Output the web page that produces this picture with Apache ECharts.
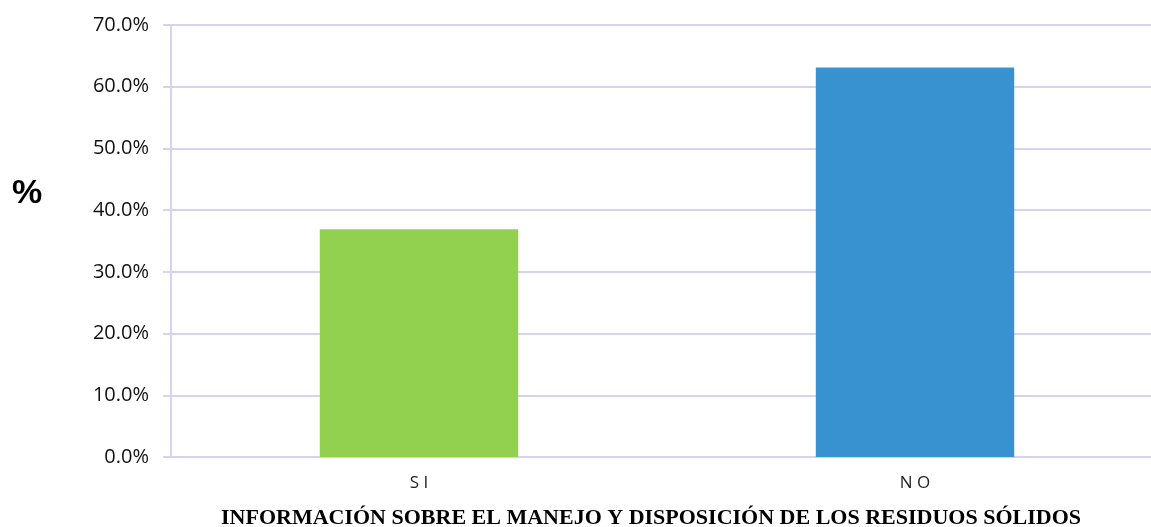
<!DOCTYPE html>
<html><head><meta charset="utf-8">
<script src="https://cdn.jsdelivr.net/npm/echarts@6/dist/echarts.min.js"></script>
<style>html,body{margin:0;padding:0;background:#fff}#c{width:1151px;height:527px}</style>
</head><body><div id="c"></div>
<script>
const categories = ['S I', 'N O'];
const values = [36.9, 63.1];
const colors = ['#92d050', '#3892cf'];
const yTicks = [0, 10, 20, 30, 40, 50, 60, 70];

const chart = echarts.init(document.getElementById('c'));
chart.setOption({
  animation: false,
  grid: { left: 171, width: 992, top: 25, bottom: 70, containLabel: false, outerBoundsMode: 'none' },
  xAxis: {
    type: 'category', data: categories,
    axisLine: { show: true, lineStyle: { color: '#d6d2f0', width: 2 } },
    axisTick: { show: false },
    axisLabel: { color: '#222', fontSize: 17, fontFamily: 'Open Sans', margin: 18 }
  },
  yAxis: {
    type: 'value', min: 0, max: 70, interval: 10,
    axisLine: { show: true, lineStyle: { color: '#d6d2f0', width: 2 } },
    axisTick: { show: true, length: 8, lineStyle: { color: '#d6d2f0', width: 2 } },
    splitLine: { lineStyle: { color: '#d6d2f0', width: 2 } },
    axisLabel: { color: '#111', fontSize: 20, fontFamily: 'Open Sans', margin: 22,
      formatter: v => v.toFixed(1) + '%' }
  },
  series: [{
    type: 'bar', barWidth: '40%',
    data: values.map((v, i) => ({ value: v, itemStyle: { color: colors[i] } }))
  }],
  graphic: [
    { type: 'text', left: 12, top: 177, style: { text: '%', font: 'bold 34px "Liberation Sans"', fill: '#000' } },
    { type: 'text', left: 221, top: 507, style: { text: 'INFORMACIÓN SOBRE EL MANEJO Y DISPOSICIÓN DE LOS RESIDUOS SÓLIDOS', font: 'bold 22px "Liberation Serif"', fill: '#000' } }
  ]
});
</script></body></html>
